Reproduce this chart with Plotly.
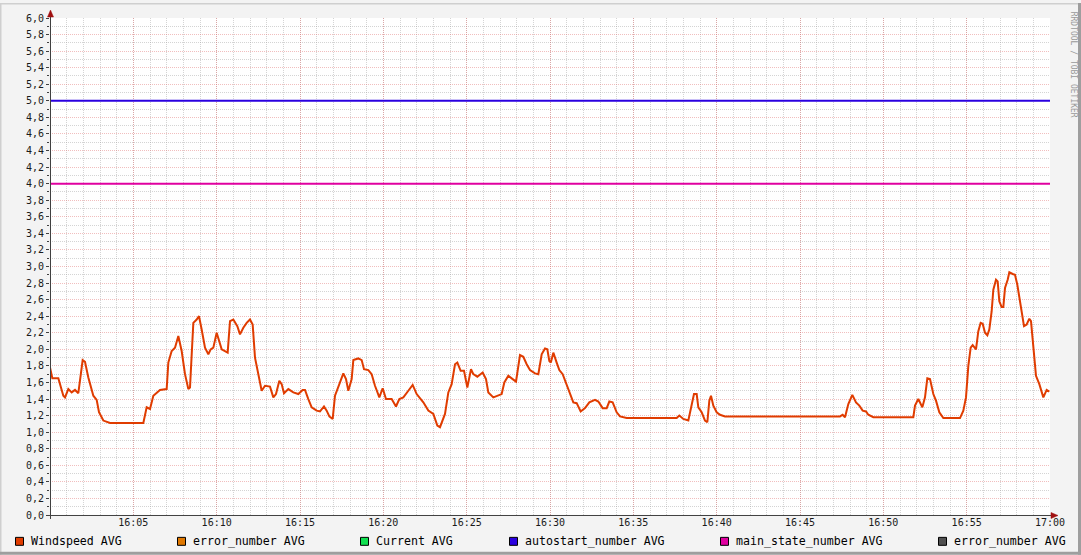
import pandas as pd
import plotly.graph_objects as go

# ---------------- data ----------------
day = "2024-05-01"
start_time = "16:00"
end_time = "17:00"

# minutes after 16:00 and wind speed readings
minutes = [
    0.0, 0.14, 0.5, 0.8, 0.9, 1.1, 1.3, 1.5, 1.7, 1.96, 2.1, 2.3, 2.6, 2.8, 2.94, 3.2, 3.6,
    5.6, 5.8, 6.0, 6.2, 6.6, 7.0, 7.1, 7.3, 7.5, 7.7, 7.9, 8.1, 8.3, 8.4, 8.6, 8.8, 8.94,
    9.1, 9.3, 9.5, 9.64, 9.8, 10.0, 10.3, 10.5, 10.66, 10.8, 11.0, 11.24, 11.4, 11.6, 11.8,
    12.0, 12.16, 12.3, 12.5, 12.7, 12.9, 13.2, 13.4, 13.56, 13.76, 13.9, 14.04, 14.3, 14.6,
    14.9, 15.16, 15.3, 15.5, 15.7, 16.0, 16.2, 16.44, 16.6, 16.76, 16.96, 17.1, 17.3, 17.4,
    17.6, 17.76, 17.9, 18.1, 18.2, 18.5, 18.7, 18.84, 19.1, 19.3, 19.5, 19.76, 19.96, 20.16,
    20.5, 20.76, 20.96, 21.2, 21.5, 21.76, 22.0, 22.4, 22.7, 23.0, 23.24, 23.4, 23.7, 23.9,
    24.1, 24.3, 24.44, 24.64, 24.84, 25.04, 25.26, 25.4, 25.64, 25.96, 26.16, 26.3, 26.6,
    26.9, 27.1, 27.26, 27.5, 27.76, 27.96, 28.2, 28.4, 28.6, 28.8, 29.1, 29.3, 29.5, 29.7,
    29.84, 29.96, 30.05, 30.2, 30.4, 30.56, 30.76, 31.0, 31.2, 31.4, 31.6, 31.84, 32.1,
    32.36, 32.7, 32.9, 33.16, 33.4, 33.56, 33.76, 34.0, 34.2, 34.6, 37.6, 37.76, 37.9, 38.0,
    38.3, 38.5, 38.64, 38.8, 38.9, 39.1, 39.3, 39.44, 39.56, 39.66, 39.8, 40.0, 40.2, 40.5,
    47.4, 47.56, 47.7, 47.9, 48.14, 48.36, 48.56, 48.76, 48.96, 49.1, 49.4, 51.8, 51.9,
    52.1, 52.34, 52.5, 52.64, 52.8, 53.0, 53.16, 53.36, 53.6, 54.6, 54.8, 54.96, 55.1,
    55.24, 55.36, 55.56, 55.7, 55.84, 55.96, 56.1, 56.24, 56.36, 56.5, 56.6, 56.76, 56.86,
    56.96, 57.1, 57.2, 57.3, 57.46, 57.56, 57.76, 57.9, 58.04, 58.16, 58.3, 58.44, 58.6,
    58.76, 58.86, 58.96, 59.04, 59.16, 59.36, 59.6, 59.8, 59.96,
]
windspeed = [
    1.78, 1.65, 1.65, 1.44, 1.42, 1.52, 1.48, 1.51, 1.47, 1.87, 1.85, 1.66, 1.44, 1.39, 1.24, 1.14, 1.11,
    1.11, 1.30, 1.28, 1.44, 1.51, 1.52, 1.84, 1.98, 2.02, 2.16, 1.98, 1.70, 1.52, 1.54, 2.32, 2.36, 2.40,
    2.24, 2.02, 1.94, 2.00, 2.02, 2.20, 2.00, 1.98, 1.96, 2.34, 2.36, 2.28, 2.18, 2.26, 2.32,
    2.36, 2.30, 1.90, 1.68, 1.50, 1.56, 1.55, 1.42, 1.46, 1.62, 1.58, 1.47, 1.52, 1.48,
    1.46, 1.51, 1.51, 1.40, 1.30, 1.26, 1.25, 1.31, 1.26, 1.19, 1.16, 1.44, 1.56, 1.60,
    1.71, 1.64, 1.50, 1.64, 1.87, 1.89, 1.87, 1.76, 1.75, 1.70, 1.56, 1.42, 1.53, 1.40,
    1.40, 1.31, 1.40, 1.42, 1.50, 1.57, 1.46, 1.36, 1.26, 1.22, 1.08, 1.06, 1.22, 1.48,
    1.58, 1.82, 1.84, 1.74, 1.74, 1.54, 1.76, 1.70, 1.67, 1.72, 1.64, 1.48, 1.42,
    1.44, 1.46, 1.60, 1.68, 1.64, 1.61, 1.93, 1.91, 1.82, 1.75, 1.71, 1.70, 1.94, 2.01,
    2.00, 1.86, 1.84, 1.96, 1.84, 1.75, 1.70, 1.58, 1.46, 1.36, 1.35, 1.25, 1.29,
    1.36, 1.39, 1.37, 1.29, 1.29, 1.37, 1.36, 1.24, 1.19, 1.17, 1.17, 1.20, 1.17, 1.16,
    1.14, 1.34, 1.46, 1.46, 1.30, 1.24, 1.14, 1.12, 1.38, 1.44, 1.32, 1.24, 1.21, 1.19,
    1.19, 1.21, 1.18, 1.34, 1.45, 1.36, 1.32, 1.26, 1.25, 1.21, 1.18, 1.18, 1.32,
    1.40, 1.30, 1.42, 1.65, 1.64, 1.46, 1.38, 1.24, 1.17, 1.17, 1.26, 1.42, 1.80,
    2.02, 2.05, 2.00, 2.22, 2.32, 2.31, 2.20, 2.17, 2.24, 2.46, 2.72, 2.84, 2.82,
    2.58, 2.51, 2.51, 2.74, 2.84, 2.93, 2.91, 2.90, 2.78, 2.62, 2.44, 2.28, 2.30,
    2.37, 2.34, 2.10, 1.86, 1.68, 1.58, 1.42, 1.51, 1.49,
]

# constant series (drawn across the whole hour)
flat_minutes = [0, 60]
autostart_number = [5.0, 5.0]
main_state_number = [4.0, 4.0]
# series without data in this window
error_number = []
current = []
error_number_2 = []

legend_labels = ["Windspeed AVG", "error_number AVG", "Current AVG",
                 "autostart_number AVG", "main_state_number AVG", "error_number AVG"]
legend_colors = ["#E03C00", "#E07800", "#10E050", "#2A00E0", "#E000A0", "#505050"]
legend_px = [15, 177, 360, 509, 720, 938]          # left edge of legend squares

tick_minutes = [5, 10, 15, 20, 25, 30, 35, 40, 45, 50, 55, 60]
tick_labels = ["16:05", "16:10", "16:15", "16:20", "16:25", "16:30",
               "16:35", "16:40", "16:45", "16:50", "16:55", "17:00"]

# ---------------- helpers ----------------
t0 = pd.Timestamp(f"{day} {start_time}")
t1 = pd.Timestamp(f"{day} {end_time}")


def to_time(mins):
    return [t0 + pd.Timedelta(minutes=m) for m in mins]


W, H = 1081, 555
L, R, T, B = 50, 31, 15, 40
PW, PH = W - L - R, H - T - B


def px(x):
    return (x - L) / PW


def py(y):
    return (H - B - y) / PH


FONT = "DejaVu Sans Mono"

fig = go.Figure()
fig.add_trace(go.Scatter(x=to_time(flat_minutes), y=main_state_number, mode="lines",
                         line=dict(color=legend_colors[4], width=2), name=legend_labels[4]))
fig.add_trace(go.Scatter(x=to_time(flat_minutes), y=autostart_number, mode="lines",
                         line=dict(color=legend_colors[3], width=2), name=legend_labels[3]))
fig.add_trace(go.Scatter(x=to_time(minutes), y=windspeed, mode="lines",
                         line=dict(color=legend_colors[0], width=2), name=legend_labels[0]))
fig.add_trace(go.Scatter(x=to_time(error_number), y=error_number, mode="lines",
                         line=dict(color=legend_colors[1], width=2), name=legend_labels[1]))
fig.add_trace(go.Scatter(x=to_time(current), y=current, mode="lines",
                         line=dict(color=legend_colors[2], width=2), name=legend_labels[2]))
fig.add_trace(go.Scatter(x=to_time(error_number_2), y=error_number_2, mode="lines",
                         line=dict(color=legend_colors[5], width=2), name=legend_labels[5]))

minor_grid = "rgba(160,160,160,0.45)"
major_grid = "rgba(225,110,110,0.45)"

fig.update_layout(
    width=W, height=H,
    margin=dict(l=L, r=R, t=T, b=B, pad=0),
    paper_bgcolor="#F3F3F3",
    plot_bgcolor="#FFFFFF",
    showlegend=False,
    separators=", ",
    font=dict(family=FONT, size=10, color="#1A1A1A"),
    xaxis=dict(
        type="date",
        range=[t0, t1],
        tickmode="array",
        tickvals=to_time(tick_minutes),
        ticktext=tick_labels,
        showgrid=True, gridcolor=major_grid, griddash="1px,1px", gridwidth=1,
        minor=dict(dtick=60000, showgrid=True, gridcolor=minor_grid, griddash="1px,1px",
                   ticks=""),
        ticks="", showline=False, zeroline=False,
        tickfont=dict(family=FONT, size=10, color="#1A1A1A"),
        fixedrange=True,
    ),
    yaxis=dict(
        range=[0, 6],
        tick0=0, dtick=0.2, tickformat=".1f",
        showgrid=True, gridcolor=major_grid, griddash="1px,1px", gridwidth=1,
        minor=dict(dtick=0.1, showgrid=True, gridcolor=minor_grid, griddash="1px,1px",
                   ticks="outside", ticklen=2, tickcolor="#404040"),
        ticks="outside", ticklen=3, tickcolor="#404040",
        showline=False, zeroline=False,
        tickfont=dict(family=FONT, size=10, color="#1A1A1A"),
        fixedrange=True,
    ),
)

shapes = []
# 3D border of the canvas
shapes.append(dict(type="rect", xref="paper", yref="paper", x0=px(0), x1=px(W), y0=py(0), y1=py(1.5),
                   fillcolor="#CFCFCF", line=dict(width=0), layer="below"))
shapes.append(dict(type="rect", xref="paper", yref="paper", x0=px(0), x1=px(1.5), y0=py(0), y1=py(H),
                   fillcolor="#CFCFCF", line=dict(width=0), layer="below"))
shapes.append(dict(type="rect", xref="paper", yref="paper", x0=px(W - 3), x1=px(W), y0=py(0), y1=py(H),
                   fillcolor="#9E9E9E", line=dict(width=0), layer="below"))
shapes.append(dict(type="rect", xref="paper", yref="paper", x0=px(0), x1=px(W), y0=py(H - 3), y1=py(H),
                   fillcolor="#9E9E9E", line=dict(width=0), layer="below"))
# axes
shapes.append(dict(type="line", xref="paper", yref="paper", x0=px(50.5), x1=px(50.5),
                   y0=py(10), y1=py(519), line=dict(color="#404040", width=1)))
shapes.append(dict(type="line", xref="paper", yref="paper", x0=px(46), x1=px(1054),
                   y0=py(515.5), y1=py(515.5), line=dict(color="#404040", width=1)))
# arrow heads
shapes.append(dict(type="path", xref="paper", yref="paper",
                   path=f"M {px(47.5)} {py(14)} L {px(53.5)} {py(14)} L {px(50.5)} {py(7)} Z",
                   fillcolor="#A01010", line=dict(color="#A01010", width=0.5)))
shapes.append(dict(type="path", xref="paper", yref="paper",
                   path=f"M {px(1051)} {py(512.5)} L {px(1051)} {py(518.5)} L {px(1058)} {py(515.5)} Z",
                   fillcolor="#A01010", line=dict(color="#A01010", width=0.5)))

annotations = []
for lx, lab, col in zip(legend_px, legend_labels, legend_colors):
    shapes.append(dict(type="rect", xref="paper", yref="paper",
                       x0=px(lx + 0.5), x1=px(lx + 8.5), y0=py(545.5), y1=py(537.5),
                       fillcolor=col, line=dict(color="#000000", width=1)))
    annotations.append(dict(text=lab, xref="paper", yref="paper", x=px(lx + 15), y=py(541),
                            xanchor="left", yanchor="middle", showarrow=False, borderpad=0,
                            font=dict(family=FONT, size=11.6, color="#000000")))

annotations.append(dict(text="RRDTOOL / TOBI OETIKER", xref="paper", yref="paper",
                        x=px(1073), y=py(62), xanchor="center", yanchor="middle", textangle=90,
                        showarrow=False, borderpad=0,
                        font=dict(family=FONT, size=8, color="#9A9A9A")))

fig.update_layout(shapes=shapes, annotations=annotations)

fig.write_html("out.html", config={"displayModeBar": False},
               post_script="document.body.style.margin='0';document.body.style.overflow='hidden';")
